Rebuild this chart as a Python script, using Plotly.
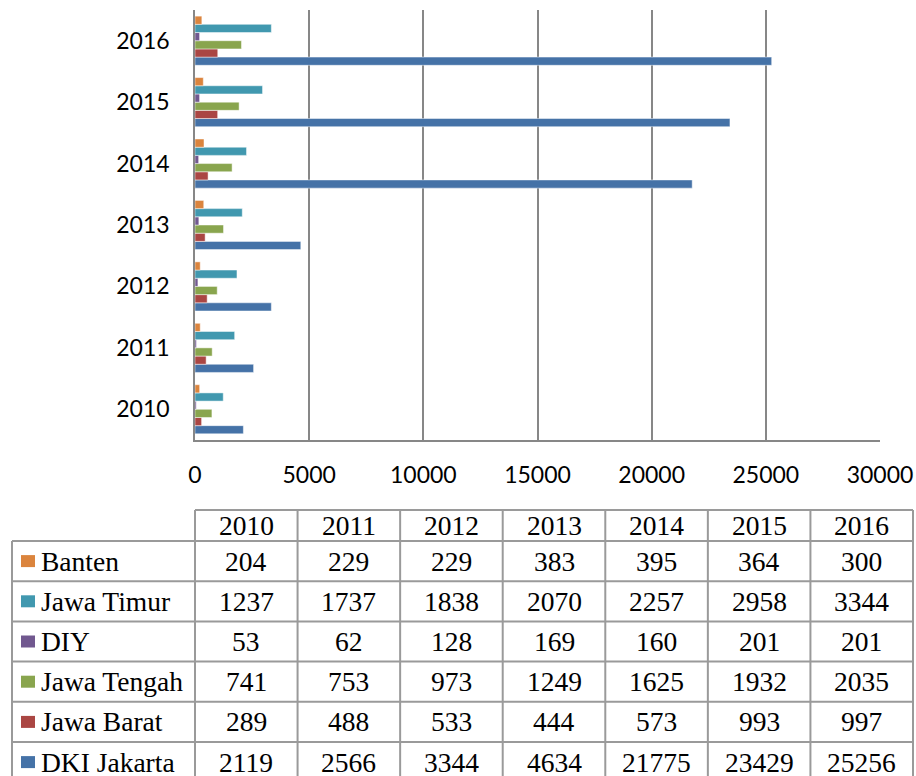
import plotly.graph_objects as go

W, H = 916, 776

years = ["2010", "2011", "2012", "2013", "2014", "2015", "2016"]
series_names = ["Banten", "Jawa Timur", "DIY", "Jawa Tengah", "Jawa Barat", "DKI Jakarta"]
colors = ["#DB843D", "#4198AF", "#71588F", "#89A54E", "#AA4643", "#4572A7"]

banten = [204, 229, 229, 383, 395, 364, 300]
jawa_timur = [1237, 1737, 1838, 2070, 2257, 2958, 3344]
diy = [53, 62, 128, 169, 160, 201, 201]
jawa_tengah = [741, 753, 973, 1249, 1625, 1932, 2035]
jawa_barat = [289, 488, 533, 444, 573, 993, 997]
dki_jakarta = [2119, 2566, 3344, 4634, 21775, 23429, 25256]
series_values = [banten, jawa_timur, diy, jawa_tengah, jawa_barat, dki_jakarta]

x_ticks = [0, 5000, 10000, 15000, 20000, 25000, 30000]

def px(x):
    return x / W

def py(y):
    return 1 - y / H

fig = go.Figure()
# plotly stacks grouped bars bottom-up: add in reverse table order
for name, vals, col in reversed(list(zip(series_names, series_values, colors))):
    fig.add_trace(go.Bar(
        y=years, x=vals, name=name, orientation="h",
        marker=dict(color=col, line=dict(color="rgba(255,255,255,0.8)", width=0.6)),
    ))

plot_l, plot_r, plot_t, plot_b = 195, 880, 10, 440
grid = "#878787"

fig.update_layout(
    template="none",
    width=W, height=H,
    margin=dict(l=0, r=0, t=0, b=0, pad=0, autoexpand=False),
    paper_bgcolor="white", plot_bgcolor="white",
    barmode="group", bargap=0.2, bargroupgap=0,
    showlegend=False,
    xaxis=dict(
        domain=[px(plot_l), px(plot_r)], range=[0, 30000],
        tickvals=x_ticks, ticktext=[str(v) for v in x_ticks],
        showgrid=True, gridcolor=grid, gridwidth=1.5,
        showline=True, linecolor=grid, linewidth=1.5,
        zeroline=False, ticks="", automargin=False,
        tickfont=dict(family="Lato, Carlito, sans-serif", size=23, color="black"),
        ticklabelstandoff=14,
    ),
    yaxis=dict(
        domain=[py(plot_b), py(plot_t)], type="category",
        categoryorder="array", categoryarray=years,
        showgrid=False, showline=True, linecolor=grid, linewidth=1.5,
        zeroline=False, ticks="", automargin=False,
        tickfont=dict(family="Lato, Carlito, sans-serif", size=23, color="black"),
        ticklabelstandoff=19,
    ),
)

# ---- data table below the chart ----
tcol = "#9a9a9a"
lw = 2
col0_l, col0_r, tab_r = 12, 195, 913
col_w = (tab_r - col0_r) / len(years)
head_t, head_b = 510, 541
row_h = 40.2
n_rows = len(series_names)
tab_b = head_b + row_h * n_rows

shapes = []
def line(x0, y0, x1, y1):
    shapes.append(dict(type="line", xref="paper", yref="paper",
                       x0=px(x0), y0=py(y0), x1=px(x1), y1=py(y1),
                       line=dict(color=tcol, width=lw)))

line(col0_r, head_t, tab_r, head_t)
for i in range(n_rows + 1):
    yy = head_b + i * row_h
    line(col0_l, yy, tab_r, yy)
line(col0_l, head_b, col0_l, tab_b)
for j in range(len(years) + 1):
    xx = col0_r + j * col_w
    line(xx, head_t, xx, tab_b)

annotations = []
tfont = dict(family="Liberation Serif, Times New Roman, serif", size=27.5, color="black")
for j, yr in enumerate(years):
    annotations.append(dict(xref="paper", yref="paper", x=px(col0_r + (j + 0.5) * col_w),
                            y=py((head_t + head_b) / 2), text=yr, showarrow=False,
                            xanchor="center", yanchor="middle", font=tfont))
for i, (name, vals, col) in enumerate(zip(series_names, series_values, colors)):
    yc = head_b + (i + 0.5) * row_h
    shapes.append(dict(type="rect", xref="paper", yref="paper",
                       x0=px(21), x1=px(35), y0=py(yc - 6), y1=py(yc + 6),
                       fillcolor=col, line=dict(width=0)))
    annotations.append(dict(xref="paper", yref="paper", x=px(39), y=py(yc), text=name,
                            showarrow=False, xanchor="left", yanchor="middle", font=tfont))
    for j, v in enumerate(vals):
        annotations.append(dict(xref="paper", yref="paper", x=px(col0_r + (j + 0.5) * col_w),
                                y=py(yc), text=str(v), showarrow=False,
                                xanchor="center", yanchor="middle", font=tfont))

fig.update_layout(shapes=shapes, annotations=annotations)
fig.write_html("out.html", config={"displayModeBar": False},
               post_script="document.body.style.margin='0';document.body.style.overflow='hidden';")
